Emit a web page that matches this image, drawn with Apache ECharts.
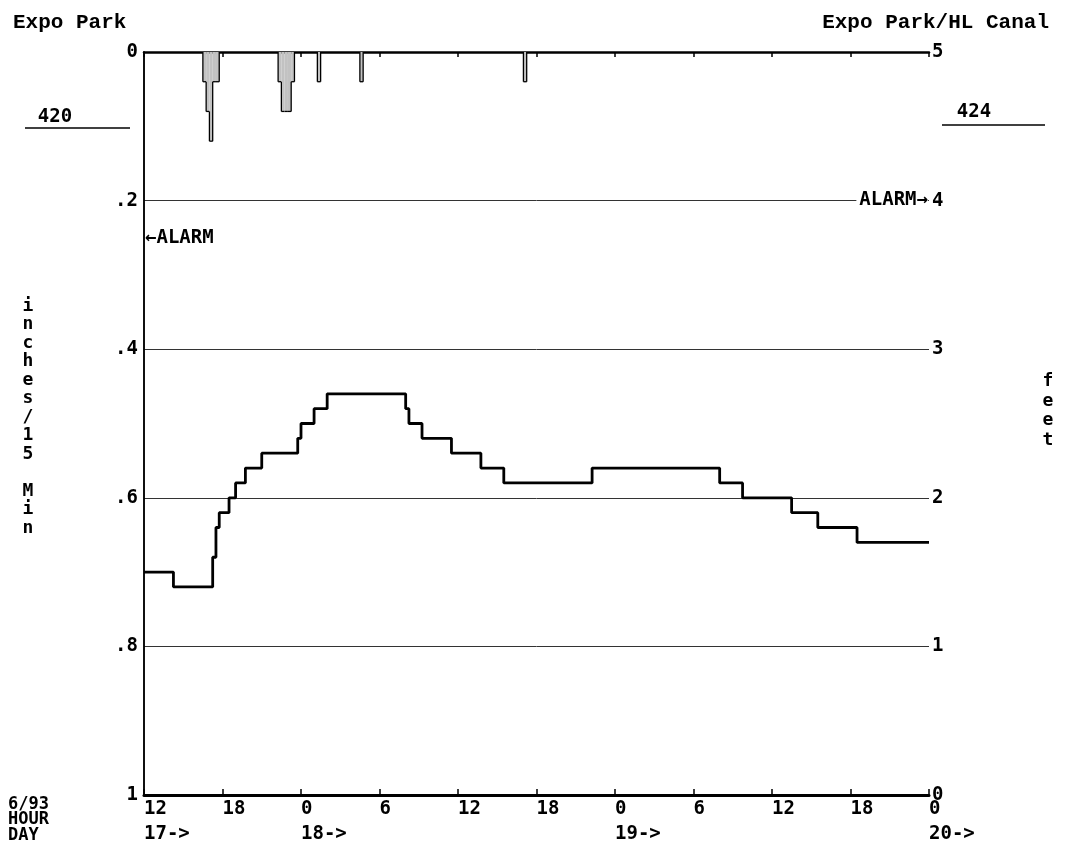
<!DOCTYPE html>
<html>
<head>
<meta charset="utf-8">
<script src="https://cdn.jsdelivr.net/npm/echarts@6/dist/echarts.min.js"></script>
<style>
html,body{margin:0;padding:0;background:#fff;}
#chart{width:1065px;height:856px;}
</style>
</head>
<body>
<div id="chart"></div>
<script>
// ---- tick labels ----
const hourLabels = ['12','18','0','6','12','18','0','6','12','18','0'];
const dayLabels  = ['17->','','18->','','','','19->','','','','20->'];
const leftTickLabels  = ['0','.2','.4','.6','.8','1'];
const rightTickLabels = ['0','1','2','3','4','5'];

// ---- rainfall (inches per 15 min), time in hours after 12:00 on 6/17 ----
const rainHours  = [4.5, 4.75, 5.0, 5.25, 5.5, 10.25, 10.5, 10.75, 11.0, 11.25, 13.25, 16.5, 29.0];
const rainInches = [0.04, 0.08, 0.12, 0.04, 0.04, 0.04, 0.08, 0.08, 0.08, 0.04, 0.04, 0.04, 0.04];

// ---- level (feet), change points, time in hours after 12:00 on 6/17 ----
const levelHours = [0, 2.25, 5.25, 5.5, 5.75, 6.5, 7.0, 7.75, 9.0, 11.75, 12.0, 13.0, 14.0, 20.0, 20.25, 21.25, 23.5, 25.75, 27.5, 34.25, 44.0, 45.75, 49.5, 51.5, 54.5, 60];
const levelFeet  = [1.5, 1.4, 1.6, 1.8, 1.9, 2.0, 2.1, 2.2, 2.3, 2.4, 2.5, 2.6, 2.7, 2.6, 2.5, 2.4, 2.3, 2.2, 2.1, 2.2, 2.1, 2.0, 1.9, 1.8, 1.7, 1.7];

// ---- alarm thresholds ----
const alarmRainInches = 0.25;
const alarmLevelFeet = 4;

const STEP = 0.25; // 15 min
const FONT = '"DejaVu Sans Mono", monospace';

const rainData = rainHours.map((h, i) => [h, rainInches[i]]);
const levelData = levelHours.map((h, i) => [h, levelFeet[i]]);

function neighbour(t) {
  for (let j = 0; j < rainHours.length; j++) {
    if (Math.abs(rainHours[j] - t) < 1e-6) return rainInches[j];
  }
  return 0;
}

const chart = echarts.init(document.getElementById('chart'), null, {renderer: 'canvas'});

const labelStyle = {color: '#000', fontFamily: FONT, fontWeight: 'bold', fontSize: 19};

chart.setOption({
  animation: false,
  backgroundColor: '#fff',
  grid: {left: 144, right: 136, top: 52, bottom: 61, containLabel: false},
  xAxis: [
    {
      type: 'value', position: 'bottom', min: 0, max: 60, interval: 6,
      axisLine: {show: true, lineStyle: {color: '#000', width: 2.5}},
      axisTick: {show: true, inside: false, length: 5, lineStyle: {color: '#000', width: 1.5}},
      splitLine: {show: false},
      axisLabel: Object.assign({}, labelStyle, {
        margin: 2, lineHeight: 25, align: 'left', verticalAlign: 'top',
        showMinLabel: true, showMaxLabel: true,
        formatter: function (v) {
          const i = Math.round(v / 6);
          return hourLabels[i] + '\n' + (dayLabels[i] || ' ');
        }
      })
    },
    {
      type: 'value', position: 'top', min: 0, max: 60, interval: 6,
      axisLine: {show: true, lineStyle: {color: '#000', width: 3}},
      axisTick: {show: true, inside: false, length: 6, lineStyle: {color: '#000', width: 1.5}},
      splitLine: {show: false},
      axisLabel: {show: false}
    }
  ],
  yAxis: [
    {
      type: 'value', position: 'left', inverse: true, min: 0, max: 1, interval: 0.2,
      axisLine: {show: true, lineStyle: {color: '#000', width: 1.5}},
      axisTick: {show: false},
      splitLine: {show: true, lineStyle: {color: '#333', width: 1}},
      axisLabel: Object.assign({}, labelStyle, {
        margin: 6,
        formatter: function (v) { return leftTickLabels[Math.round(v / 0.2)]; }
      })
    },
    {
      type: 'value', position: 'right', min: 0, max: 5, interval: 1,
      axisLine: {show: true, lineStyle: {color: '#000', width: 1.5}},
      axisTick: {show: false},
      splitLine: {show: false},
      axisLabel: Object.assign({}, labelStyle, {
        margin: 3,
        formatter: function (v) { return rightTickLabels[Math.round(v)]; }
      })
    }
  ],
  series: [
    {
      type: 'custom',
      xAxisIndex: 0, yAxisIndex: 0,
      data: rainData,
      encode: {x: 0, y: 1},
      z: 3,
      renderItem: function (params, api) {
        const t = api.value(0), v = api.value(1);
        const prev = neighbour(t - STEP), next = neighbour(t + STEP);
        const pTop = api.coord([t, 0]);
        const pBot = api.coord([t + STEP, v]);
        const x0 = pTop[0], x1 = pBot[0], y0 = pTop[1], y1 = pBot[1];
        const yPrev = api.coord([t, prev])[1];
        const yNext = api.coord([t, next])[1];
        const stroke = {stroke: '#000', lineWidth: 1.3};
        const children = [
          {type: 'rect', shape: {x: x0, y: y0, width: x1 - x0, height: y1 - y0}, style: {fill: '#c2c2c2'}},
          {type: 'line', shape: {x1: x0, y1: y1, x2: x1, y2: y1}, style: stroke}
        ];
        if (v > prev) children.push({type: 'line', shape: {x1: x0, y1: yPrev, x2: x0, y2: y1}, style: stroke});
        if (v > next) children.push({type: 'line', shape: {x1: x1, y1: yNext, x2: x1, y2: y1}, style: stroke});
        return {type: 'group', children: children};
      }
    },
    {
      type: 'line',
      xAxisIndex: 0, yAxisIndex: 1,
      data: levelData,
      step: 'end',
      symbol: 'none',
      z: 4,
      lineStyle: {color: '#000', width: 2.8}
    }
  ]
});

// annotations
const pL = chart.convertToPixel({xAxisIndex: 0, yAxisIndex: 0}, [0, alarmRainInches]);
const pR = chart.convertToPixel({xAxisIndex: 0, yAxisIndex: 1}, [60, alarmLevelFeet]);

const txt = (text, x, y, align, size, extra) => ({
  type: 'text', x: x, y: y, z: 10,
  style: Object.assign({
    text: text, align: align, verticalAlign: 'middle',
    font: 'bold ' + size + 'px ' + FONT, fill: '#000'
  }, extra || {})
});

chart.setOption({
  graphic: [
    txt('Expo Park', 13, 22.5, 'left', 21, {font: 'bold 21px "Liberation Mono", monospace'}),
    txt('Expo Park/HL Canal', 1049, 22.5, 'right', 21, {font: 'bold 21px "Liberation Mono", monospace'}),
    txt('420', 55, 117.5, 'center', 19),
    {type: 'line', z: 10, shape: {x1: 25, y1: 128, x2: 130, y2: 128}, style: {stroke: '#000', lineWidth: 1.5}},
    txt('424', 974, 112.5, 'center', 19),
    {type: 'line', z: 10, shape: {x1: 942, y1: 125, x2: 1045, y2: 125}, style: {stroke: '#000', lineWidth: 1.5}},
    txt('\u2190ALARM', pL[0] + 1, pL[1], 'left', 19),
    txt('ALARM\u2192', pR[0] - 1, pR[1] - 1, 'right', 19, {backgroundColor: '#fff', padding: [0, 0, 0, 3]}),
    txt('6/93', 8, 805, 'left', 17),
    txt('HOUR', 8, 820, 'left', 17),
    txt('DAY', 8, 836, 'left', 17),
    txt('inches/15 Min'.split('').join('\n'), 28, 417, 'center', 18, {lineHeight: 18.5}),
    txt('feet'.split('').join('\n'), 1048, 411, 'center', 18, {lineHeight: 19.5})
  ]
});
</script>
</body>
</html>
